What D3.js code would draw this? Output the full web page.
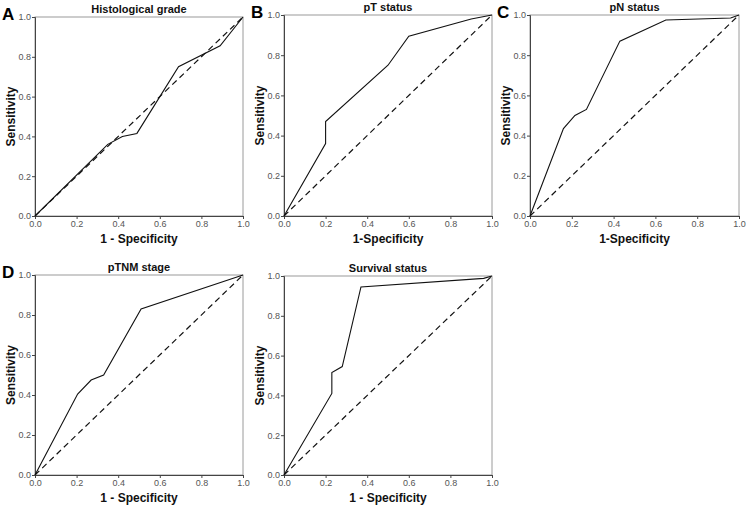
<!DOCTYPE html>
<html>
<head>
<meta charset="utf-8">
<script src="https://cdn.jsdelivr.net/npm/d3@7"></script>
<style>
  html, body { margin: 0; padding: 0; background: #fff; }
  svg { display: block; font-family: Arial, "Liberation Sans", Helvetica, sans-serif; }
</style>
</head>
<body>
<svg id="chart" width="748" height="510"></svg>
<script>
// ---- Data (ROC curves: [1 - specificity, sensitivity]) ----
const panelTitles = ["Histological grade", "pT status", "pN status", "pTNM stage", "Survival status"];
const panelLetters = ["A", "B", "C", "D", ""];
const xAxisTitles = ["1 - Specificity", "1-Specificity", "1-Specificity", "1 - Specificity", "1 - Specificity"];
const yAxisTitle = "Sensitivity";
const tickValues = [0.0, 0.2, 0.4, 0.6, 0.8, 1.0];

const rocHistological = [[0, 0], [0.35, 0.36], [0.42, 0.40], [0.49, 0.415], [0.69, 0.75], [0.89, 0.855], [1, 1]];
const rocPT = [[0, 0], [0.2, 0.36], [0.2, 0.47], [0.5, 0.75], [0.6, 0.895], [0.9, 0.98], [1, 1]];
const rocPN = [[0, 0], [0.16, 0.435], [0.215, 0.50], [0.27, 0.53], [0.43, 0.87], [0.65, 0.975], [0.96, 0.985], [1, 1]];
const rocPTNM = [[0, 0], [0.205, 0.405], [0.27, 0.475], [0.33, 0.50], [0.51, 0.83], [1, 1]];
const rocSurvival = [[0, 0], [0.23, 0.41], [0.23, 0.515], [0.28, 0.545], [0.37, 0.945], [0.96, 0.988], [1, 1]];
const diagonal = [[0, 0], [1, 1]];

const curves = [rocHistological, rocPT, rocPN, rocPTNM, rocSurvival];

// ---- Layout (pixel boxes of each plot area) ----
const boxes = [
  { x0: 35, x1: 243, y0: 17, y1: 216 },
  { x0: 284, x1: 492, y0: 15, y1: 216 },
  { x0: 530, x1: 739, y0: 15, y1: 216 },
  { x0: 35, x1: 243, y0: 275, y1: 475 },
  { x0: 284, x1: 492, y0: 276, y1: 475 }
];

const svg = d3.select("#chart");

boxes.forEach((b, i) => {
  const x = d3.scaleLinear().domain([0, 1]).range([b.x0, b.x1]);
  const y = d3.scaleLinear().domain([0, 1]).range([b.y1, b.y0]);
  const g = svg.append("g");

  // frame (top/right)
  g.append("rect")
    .attr("x", b.x0).attr("y", b.y0)
    .attr("width", b.x1 - b.x0).attr("height", b.y1 - b.y0)
    .attr("fill", "none").attr("stroke", "#9a9a9a").attr("stroke-width", 1);

  // axes
  const xAxis = d3.axisBottom(x).tickValues(tickValues).tickSize(3).tickPadding(2).tickFormat(d3.format(".1f"));
  const yAxis = d3.axisLeft(y).tickValues(tickValues).tickSize(3).tickPadding(1).tickFormat(d3.format(".1f"));
  const gx = g.append("g").attr("transform", `translate(0,${b.y1})`).call(xAxis);
  const gy = g.append("g").attr("transform", `translate(${b.x0},0)`).call(yAxis);
  [gx, gy].forEach(a => {
    a.select(".domain").attr("stroke", "#444");
    a.selectAll(".tick line").attr("stroke", "#444");
    a.selectAll(".tick text").attr("fill", "#555").style("font-size", "9px")
      .style("font-family", "Arial, 'Liberation Sans', sans-serif");
  });

  const line = d3.line().x(d => x(d[0])).y(d => y(d[1]));

  // reference diagonal
  g.append("path").datum(diagonal).attr("d", line)
    .attr("fill", "none").attr("stroke", "#111").attr("stroke-width", 1.2)
    .attr("stroke-dasharray", "6,4");

  // ROC curve
  g.append("path").datum(curves[i]).attr("d", line)
    .attr("fill", "none").attr("stroke", "#111").attr("stroke-width", 1.1);

  // title
  g.append("text")
    .attr("x", (b.x0 + b.x1) / 2).attr("y", b.y0 - 4)
    .attr("text-anchor", "middle").attr("font-weight", "bold")
    .attr("font-size", 11).attr("fill", "#111")
    .text(panelTitles[i]);

  // x axis title
  g.append("text")
    .attr("x", (b.x0 + b.x1) / 2).attr("y", b.y1 + 27)
    .attr("text-anchor", "middle").attr("font-weight", "bold")
    .attr("font-size", 12).attr("fill", "#111")
    .text(xAxisTitles[i]);

  // y axis title
  g.append("text")
    .attr("transform", `translate(${b.x0 - 20},${(b.y0 + b.y1) / 2}) rotate(-90)`)
    .attr("text-anchor", "middle").attr("font-weight", "bold")
    .attr("font-size", 12).attr("fill", "#111")
    .text(yAxisTitle);

  // panel letter
  if (panelLetters[i]) {
    g.append("text")
      .attr("x", b.x0 - 33).attr("y", b.y0 + 3)
      .attr("font-weight", "bold").attr("font-size", 17).attr("fill", "#000")
      .text(panelLetters[i]);
  }
});
</script>
</body>
</html>
